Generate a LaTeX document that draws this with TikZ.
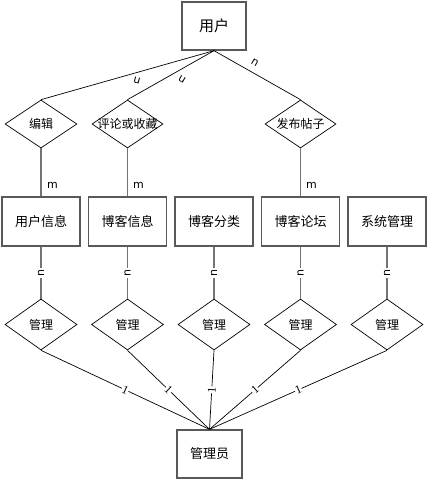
\documentclass[tikz,border=0pt]{standalone}
\usepackage{fontspec}
\setmainfont{Liberation Serif}
\setsansfont{DejaVu Sans}
\newfontfamily\cjk{Noto Sans CJK SC}
\usetikzlibrary{shapes.geometric}
\newcommand{\zw}[1]{\makebox[0pt]{#1}}
\tikzset{
  entity/.style={draw=black!65, line width=1.3pt, rectangle, inner sep=0pt, font=\cjk\fontsize{13}{13}\selectfont},
  rel/.style={draw=black, line width=0.7pt, diamond, inner sep=0pt, aspect=1.5, font=\cjk\fontsize{12}{12}\selectfont},
  diag/.style={draw=black, line width=0.7pt},
  vert/.style={draw=black!55, line width=1.3pt},
  card/.style={font=\sffamily\fontsize{11}{11}\selectfont, inner sep=0.5pt},
  one/.style={font=\rmfamily\fontsize{12}{12}\selectfont, fill=white, inner sep=0.5pt, sloped}
}
\begin{document}
\begin{tikzpicture}[x=1pt,y=-1pt]
\useasboundingbox (0,0) rectangle (429,481);
% entities
\node[entity, minimum width=64pt, minimum height=48pt, font=\cjk\fontsize{15}{15}\selectfont] (user) at (214,26) {用户};
\node[entity, minimum width=78pt, minimum height=49pt] (b1) at (41,221.5) {用户信息};
\node[entity, minimum width=78pt, minimum height=49pt] (b2) at (127.5,221.5) {博客信息};
\node[entity, minimum width=78pt, minimum height=49pt] (b3) at (214,221.5) {博客分类};
\node[entity, minimum width=78pt, minimum height=49pt] (b4) at (300.5,221.5) {博客论坛};
\node[entity, minimum width=78pt, minimum height=49pt] (b5) at (387,221.5) {系统管理};
\node[entity, minimum width=65pt, minimum height=48pt] (admin) at (209.5,454) {管理员};
% top relations
\node[rel, minimum width=72pt, minimum height=48pt] (r1) at (41,124) {\zw{编辑}};
\node[rel, minimum width=71pt, minimum height=48pt] (r2) at (127.5,124) {\zw{评论或收藏}};
\node[rel, minimum width=71pt, minimum height=48pt] (r3) at (300.5,124) {\zw{发布帖子}};
% bottom relations
\node[rel, minimum width=72pt, minimum height=51pt] (m1) at (41,324.5) {\zw{管理}};
\node[rel, minimum width=72pt, minimum height=51pt] (m2) at (127.5,324.5) {\zw{管理}};
\node[rel, minimum width=72pt, minimum height=51pt] (m3) at (214,324.5) {\zw{管理}};
\node[rel, minimum width=72pt, minimum height=51pt] (m4) at (300.5,324.5) {\zw{管理}};
\node[rel, minimum width=72pt, minimum height=51pt] (m5) at (387,324.5) {\zw{管理}};
% user to top relations
\draw[diag] (user.south) -- (r1.north);
\draw[diag] (user.south) -- (r2.north);
\draw[diag] (user.south) -- (r3.north);
\node[card, rotate=165] (n1) at (137,81) {n};
\node[card, rotate=150] (n2) at (182,79) {n};
\node[card, rotate=-30] (n3) at (255,63) {n};
% top relations to entities
\draw[vert] (r1.south) -- (b1.north);
\draw[vert] (r2.south) -- (b2.north);
\draw[vert] (r3.south) -- (b4.north);
\node[card] (m1l) at (52.5,185) {m};
\node[card] (m2l) at (138.5,185) {m};
\node[card] (m3l) at (311.5,185) {m};
% entities to bottom relations
\foreach \i in {1,...,5}{
  \draw[vert] (b\i.south) -- node[card, fill=white, rotate=90, inner sep=1.5pt] {n} (m\i.north);
}
% bottom relations to admin
\foreach \i in {1,...,5}{
  \draw[diag] (m\i.south) -- node[one] {1} (admin.north);
}
\end{tikzpicture}
\end{document}
